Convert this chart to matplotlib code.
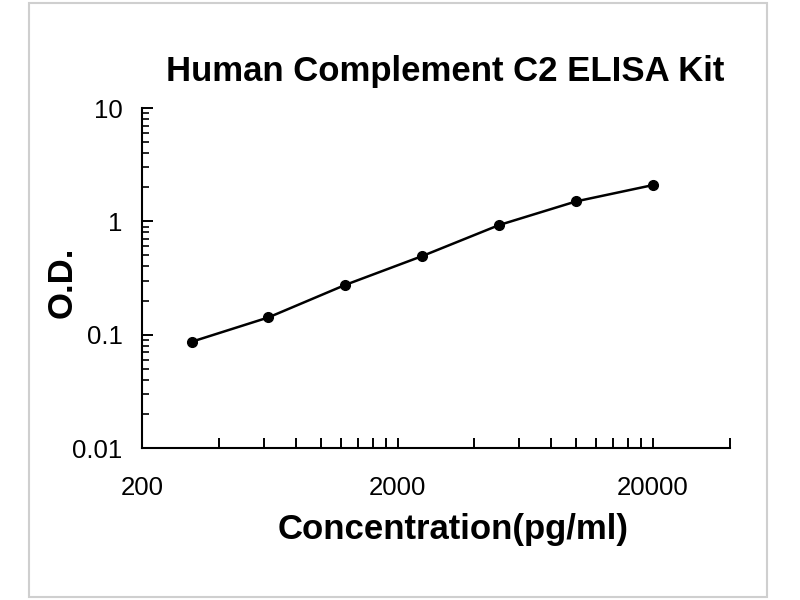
import matplotlib.pyplot as plt
from matplotlib.patches import Rectangle
from matplotlib.ticker import FixedLocator, NullFormatter
import numpy as np

conc = [312.5, 625, 1250, 2500, 5000, 10000, 20000]
od = [0.0865, 0.142, 0.275, 0.494, 0.928, 1.50, 2.09]

x_major = [200, 2000, 20000]
x_minor = [400, 600, 800, 1000, 1200, 1400, 1600, 1800,
           4000, 6000, 8000, 10000, 12000, 14000, 16000, 18000, 40000]
y_major = [0.01, 0.1, 1, 10]

plt.rcParams['font.family'] = ['Liberation Sans', 'DejaVu Sans']

fig = plt.figure(figsize=(8, 6), dpi=100)
fig.patches.append(Rectangle((29 / 800, 3 / 600), 738 / 800, 594 / 600,
                             transform=fig.transFigure, fill=False,
                             edgecolor='#cfcfcf', linewidth=1.5))

ax = fig.add_axes([142 / 800, 152 / 600, 588 / 800, 340 / 600])
ax.plot(conc, od, color='black', linewidth=1.8, marker='o', markersize=7)
ax.set_xscale('log')
ax.set_yscale('log')
ax.set_xlim(200, 40000)
ax.set_ylim(0.01, 10)

ax.xaxis.set_major_locator(FixedLocator(x_major))
ax.xaxis.set_minor_locator(FixedLocator(x_minor))
ax.xaxis.set_minor_formatter(NullFormatter())
ax.set_xticklabels(['200', '2000', '20000'])
ax.yaxis.set_major_locator(FixedLocator(y_major))
ax.set_yticklabels(['0.01', '0.1', '1', '10'])
ax.yaxis.set_minor_formatter(NullFormatter())

ax.tick_params(axis='x', which='both', direction='in', length=7, width=1.4,
               pad=20, labelsize=18.5)
ax.tick_params(axis='y', which='major', direction='in', length=8, width=1.4,
               pad=14, labelsize=18.5)
ax.tick_params(axis='y', which='minor', direction='in', length=5, width=1.2)

for s in ['top', 'right']:
    ax.spines[s].set_visible(False)
for s in ['left', 'bottom']:
    ax.spines[s].set_linewidth(1.5)

fig.text(453 / 800, 1 - 530 / 600, 'Concentration(pg/ml)', fontsize=25,
         fontweight='bold', ha='center', va='center')
fig.text(62 / 800, 1 - 282 / 600, 'O.D.', fontsize=25, fontweight='bold',
         rotation=90, ha='center', va='center')
fig.text(445 / 800, 1 - 72 / 600, 'Human Complement C2 ELISA Kit',
         fontsize=25, fontweight='bold', ha='center', va='center')

fig.savefig('out.png', dpi=100)
